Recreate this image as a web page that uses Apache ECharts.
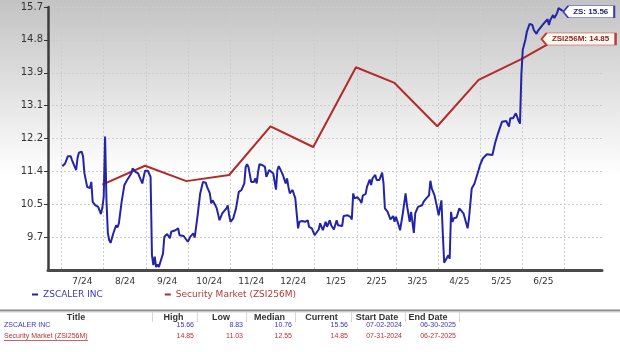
<!DOCTYPE html>
<html>
<head>
<meta charset="utf-8">
<script src="https://cdn.jsdelivr.net/npm/echarts@6/dist/echarts.min.js"></script>
<style>
html,body{margin:0;padding:0;width:620px;height:352px;overflow:hidden;background:#fff;}
#chart{width:620px;height:352px;}
</style>
</head>
<body>
<div id="chart"></div>
<script>
// ---- DATA ----
const zsName = 'ZSCALER INC';
const mktName = 'Security Market (ZSI256M)';

const zsDates = [
'2024-07-02','2024-07-04','2024-07-06','2024-07-08','2024-07-09','2024-07-11','2024-07-12','2024-07-13','2024-07-14','2024-07-16',
'2024-07-17','2024-07-18','2024-07-20','2024-07-22','2024-07-23','2024-07-24','2024-07-26','2024-07-28','2024-07-30','2024-07-31',
'2024-08-01','2024-08-02','2024-08-03','2024-08-04','2024-08-05','2024-08-06','2024-08-08','2024-08-10','2024-08-11','2024-08-12',
'2024-08-14','2024-08-16','2024-08-18','2024-08-21','2024-08-22','2024-08-24','2024-08-26','2024-08-27','2024-08-29','2024-08-30',
'2024-08-31','2024-09-02','2024-09-04','2024-09-05','2024-09-06','2024-09-07','2024-09-08','2024-09-09','2024-09-10','2024-09-11',
'2024-09-13','2024-09-14','2024-09-16','2024-09-18','2024-09-19','2024-09-22','2024-09-24','2024-09-25','2024-09-28','2024-09-29',
'2024-10-01','2024-10-03','2024-10-05','2024-10-06','2024-10-08','2024-10-10','2024-10-12','2024-10-14','2024-10-15','2024-10-17',
'2024-10-18','2024-10-19','2024-10-21','2024-10-22','2024-10-24','2024-10-26','2024-10-27','2024-10-29','2024-10-30','2024-10-31',
'2024-11-01','2024-11-03','2024-11-05','2024-11-07','2024-11-09','2024-11-11','2024-11-12','2024-11-13','2024-11-14','2024-11-16',
'2024-11-18','2024-11-19','2024-11-20','2024-11-21','2024-11-22','2024-11-24','2024-11-26','2024-11-27','2024-11-29','2024-11-30',
'2024-12-02','2024-12-04','2024-12-05','2024-12-06','2024-12-08','2024-12-09','2024-12-11','2024-12-12','2024-12-13','2024-12-14',
'2024-12-16','2024-12-18','2024-12-19','2024-12-20','2024-12-21','2024-12-23','2024-12-25','2024-12-27','2024-12-28','2024-12-30',
'2025-01-01','2025-01-02','2025-01-04','2025-01-05','2025-01-07','2025-01-09','2025-01-10','2025-01-12','2025-01-13','2025-01-15',
'2025-01-17','2025-01-18','2025-01-21','2025-01-22','2025-01-25','2025-01-27','2025-01-28','2025-01-29','2025-01-30','2025-02-01',
'2025-02-03','2025-02-04','2025-02-05','2025-02-07','2025-02-08','2025-02-10','2025-02-11','2025-02-12','2025-02-14','2025-02-15',
'2025-02-17','2025-02-19','2025-02-20','2025-02-21','2025-02-23','2025-02-24','2025-02-25','2025-02-27','2025-02-28','2025-03-01',
'2025-03-03','2025-03-04','2025-03-06','2025-03-08','2025-03-09','2025-03-11','2025-03-12','2025-03-14','2025-03-15','2025-03-17',
'2025-03-18','2025-03-20','2025-03-21','2025-03-23','2025-03-25','2025-03-26','2025-03-27','2025-03-29','2025-03-30','2025-03-31',
'2025-04-01','2025-04-03','2025-04-04','2025-04-05','2025-04-06','2025-04-08','2025-04-09','2025-04-10','2025-04-11','2025-04-12',
'2025-04-14','2025-04-16','2025-04-17','2025-04-19','2025-04-21','2025-04-22','2025-04-23','2025-04-25','2025-04-27','2025-04-30',
'2025-05-01','2025-05-03','2025-05-06','2025-05-10','2025-05-12','2025-05-14','2025-05-15','2025-05-17','2025-05-18','2025-05-20',
'2025-05-22','2025-05-23','2025-05-25','2025-05-26','2025-05-27','2025-05-28','2025-05-29','2025-05-30','2025-05-31','2025-06-01',
'2025-06-03','2025-06-04','2025-06-06','2025-06-08','2025-06-09','2025-06-11','2025-06-12','2025-06-14','2025-06-16','2025-06-17',
'2025-06-19','2025-06-20','2025-06-21','2025-06-23','2025-06-24','2025-06-26','2025-06-27','2025-06-28','2025-06-30'
];
const zsValues = [
11.51,11.58,11.77,11.77,11.67,11.49,11.41,11.72,11.86,11.89,
11.77,11.33,10.97,10.94,11.10,10.58,10.49,10.45,10.26,10.43,
10.71,12.28,10.62,9.76,9.58,9.51,9.76,9.97,9.91,10.02,
10.58,11.02,11.15,11.32,11.45,11.36,11.32,11.23,11.06,11.23,
11.39,11.39,11.23,9.19,8.93,9.15,8.88,8.95,8.88,8.83,
9.23,9.67,9.74,9.63,9.80,9.84,9.89,9.71,9.69,9.67,
9.54,9.68,9.76,9.65,10.19,10.80,11.10,11.08,10.97,10.80,
10.54,10.62,10.49,10.41,10.10,10.28,10.32,10.41,10.49,10.23,
10.06,10.15,10.41,10.84,10.89,11.06,11.49,11.56,11.49,11.10,
11.10,11.19,11.06,11.36,11.56,11.54,11.49,11.23,11.41,11.45,
11.32,10.90,11.41,11.51,11.36,11.28,11.06,11.19,10.97,10.80,
10.89,10.67,10.28,9.89,10.06,10.08,10.06,10.10,9.93,9.89,
9.71,9.67,9.86,10.02,9.84,10.06,9.93,10.10,9.97,9.86,
10.10,9.97,9.95,10.21,10.23,10.19,10.12,10.80,10.67,10.70,
10.62,10.55,10.75,10.78,10.97,11.16,11.02,11.19,11.28,11.15,
11.15,11.34,11.06,10.41,10.32,10.30,10.12,10.21,10.06,10.19,
9.97,9.84,10.28,10.80,10.49,10.06,10.32,9.77,10.28,10.45,
10.49,10.49,10.58,10.67,10.75,11.13,10.93,10.75,10.58,10.41,
10.23,10.62,9.76,8.99,9.06,9.19,9.10,10.32,10.06,10.15,
10.17,10.41,10.36,10.28,10.02,9.89,10.15,10.93,11.06,11.41,
11.54,11.71,11.82,11.80,12.12,12.36,12.38,12.67,12.71,12.69,
12.54,12.76,12.76,12.80,12.89,12.84,12.69,12.62,13.89,14.54,
14.82,15.02,15.22,15.19,15.06,14.96,15.04,15.13,15.22,15.25,
15.34,15.19,15.32,15.45,15.37,15.51,15.63,15.66,15.56
];

const mktDates = ['2024-07-31','2024-08-31','2024-09-30','2024-10-31','2024-11-30','2024-12-31',
                  '2025-01-31','2025-02-28','2025-03-31','2025-04-30','2025-05-31','2025-06-27'];
const mktValues = [11.03, 11.52, 11.12, 11.28, 12.55, 12.01, 14.09, 13.68, 12.55, 13.76, 14.30, 14.85];

// x axis months (grid lines at month starts, labels mid-month)
const monthStarts = ['2024-07-01','2024-08-01','2024-09-01','2024-10-01','2024-11-01','2024-12-01',
                     '2025-01-01','2025-02-01','2025-03-01','2025-04-01','2025-05-01','2025-06-01','2025-07-01'];
const xTickLabels = ['7/24','8/24','9/24','10/24','11/24','12/24','1/25','2/25','3/25','4/25','5/25','6/25'];
const xRange = ['2024-06-21 14:00','2025-07-28 12:00'];

// y axis
const yMin = 8.803, yMax = 15.66, ySteps = 8;

// summary table
const tableHeaders = ['Title','High','Low','Median','Current','Start Date','End Date'];
const zsRow  = ['ZSCALER INC','15.66','8.83','10.76','15.56','07-02-2024','06-30-2025'];
const mktRow = ['Security Market (ZSI256M)','14.85','11.03','12.55','14.85','07-31-2024','06-27-2025'];

// ---- BUILD ----
function ts(s){
  const p = s.split(/[- :]/).map(Number);
  return Date.UTC(p[0], p[1]-1, p[2], p[3]||0, p[4]||0);
}
const startTs = monthStarts.map(ts);
const midTs = [];
for (let i = 0; i < startTs.length - 1; i++) midTs.push((startTs[i] + startTs[i+1]) / 2);

const zsData = zsDates.map((d,i)=>[ts(d), zsValues[i]]);
const mktData = mktDates.map((d,i)=>[ts(d), mktValues[i]]);
const zsLast = zsData[zsData.length-1];
const mktLast = mktData[mktData.length-1];

const BLUE = '#2424a8', RED = '#b22a2a';
const FONT = 'DejaVu Sans';
const TFONT = 'Liberation Sans';

// table graphics
const colRight = [152,197,246,295,351,405,459];
const headCenter = [76,173.5,221,269.5,321.5,377,428];
const graphics = [];
graphics.push({type:'rect', shape:{x:0,y:309.5,width:620,height:2}, style:{fill:'#8c8c8c'}, silent:true});
graphics.push({type:'rect', shape:{x:0,y:311.5,width:620,height:1}, style:{fill:'#d0d0d0'}, silent:true});
colRight.forEach(x=>{
  graphics.push({type:'rect', shape:{x:x,y:312,width:1,height:10}, style:{fill:'#d6d6d6'}, silent:true});
});
tableHeaders.forEach((h,i)=>{
  graphics.push({type:'text', x:headCenter[i], y:317.5, silent:true,
    style:{text:h, fill:'#333', font:'bold 9px "'+TFONT+'"', align:'center', verticalAlign:'middle', textAlign:'center', textVerticalAlign:'middle'}});
});
function addRow(row, y, color, underline){
  graphics.push({type:'text', x:4, y:y, silent:true,
    style:{text:row[0], fill:color, font:'7px "'+TFONT+'"', align:'left', verticalAlign:'middle', textAlign:'left', textVerticalAlign:'middle'}});
  if (underline) {
    graphics.push({type:'rect', shape:{x:4,y:y+4,width:84,height:0.8}, style:{fill:color}, silent:true});
  }
  for (let i = 1; i < row.length; i++) {
    graphics.push({type:'text', x:colRight[i]-3, y:y, silent:true,
      style:{text:row[i], fill:color, font:'7px "'+TFONT+'"', align:'right', verticalAlign:'middle', textAlign:'right', textVerticalAlign:'middle'}});
  }
}
addRow(zsRow, 325.5, '#3434c4', false);
addRow(mktRow, 336, '#c03030', true);

const chart = echarts.init(document.getElementById('chart'), null, {renderer:'canvas'});
const option = {
  animation: false,
  backgroundColor: {type:'linear', x:0, y:0, x2:0, y2:1,
    colorStops:[{offset:0,color:'#c3c3c3'},{offset:0.5,color:'#ffffff'},{offset:1,color:'#ffffff'}]},
  grid: {left:48, right:18, top:7, bottom:82, containLabel:false},
  legend: {
    left: 27, top: 285, icon:'rect', itemWidth:6, itemHeight:2, itemGap:62,
    textStyle:{fontSize:9, fontFamily:FONT, padding:[0,0,0,0]},
    data:[{name:zsName, textStyle:{color:'#3a3ab8'}}, {name:mktName, textStyle:{color:'#b03a3a'}}]
  },
  xAxis: {
    type:'value', min: ts(xRange[0]), max: ts(xRange[1]),
    axisLine:{show:true, onZero:false, lineStyle:{color:'#4a4a4a', width:3}},
    axisTick:{show:false, customValues: startTs},
    splitLine:{show:true, lineStyle:{color:'#cccccc', type:[2,2], width:1}},
    axisLabel:{customValues: midTs, margin:7, fontSize:9, fontFamily:FONT, color:'#333',
      formatter: function(v){ const i = midTs.indexOf(v); return i >= 0 ? xTickLabels[i] : ''; }}
  },
  yAxis: {
    type:'value', min:yMin, max:yMax, interval:(yMax-yMin)/ySteps,
    axisLine:{show:true, lineStyle:{color:'#3c3c3c', width:2.5}},
    axisTick:{show:true, length:4, lineStyle:{color:'#333', width:1}},
    splitLine:{show:true, lineStyle:{color:'#cccccc', type:[2,2], width:1}},
    axisLabel:{showMinLabel:false, margin:5, fontSize:10, fontFamily:FONT, color:'#333',
      formatter: v => v.toFixed(1)}
  },
  series: [
    {
      name: zsName, type:'line', data: zsData, showSymbol:false, symbol:'none',
      lineStyle:{color:BLUE, width:2}, itemStyle:{color:BLUE}, z:3,
      markPoint:{
        symbol:'path://M0,5.5 L5,0 L51,0 L51,11 L5,11 Z', symbolSize:[51,12], symbolKeepAspect:false,
        symbolOffset:[26,1],
        itemStyle:{color:'#ffffff', borderColor:'#3a3ab8', borderWidth:1},
        label:{show:true, position:'inside', offset:[2,0], formatter:'ZS: 15.56', color:'#2a2a6a',
          fontSize:8, fontWeight:'bold', fontFamily:TFONT},
        data:[{coord: zsLast, value: zsLast[1]}]
      }
    },
    {
      name: mktName, type:'line', data: mktData, showSymbol:false, symbol:'none',
      lineStyle:{color:RED, width:2}, itemStyle:{color:RED}, z:2,
      markPoint:{
        symbol:'path://M0,5.5 L5,0 L74,0 L74,11 L5,11 Z', symbolSize:[74,12], symbolKeepAspect:false,
        symbolOffset:[20,1],
        itemStyle:{color:'#fffaf0', borderColor:'#c03a3a', borderWidth:1},
        label:{show:true, position:'inside', offset:[2,0], formatter:'ZSI256M: 14.85', color:'#8a1e1e',
          fontSize:8, fontWeight:'bold', fontFamily:TFONT},
        data:[{coord: mktLast, value: mktLast[1]}]
      }
    }
  ],
  graphic: graphics
};
chart.setOption(option);
</script>
</body>
</html>
